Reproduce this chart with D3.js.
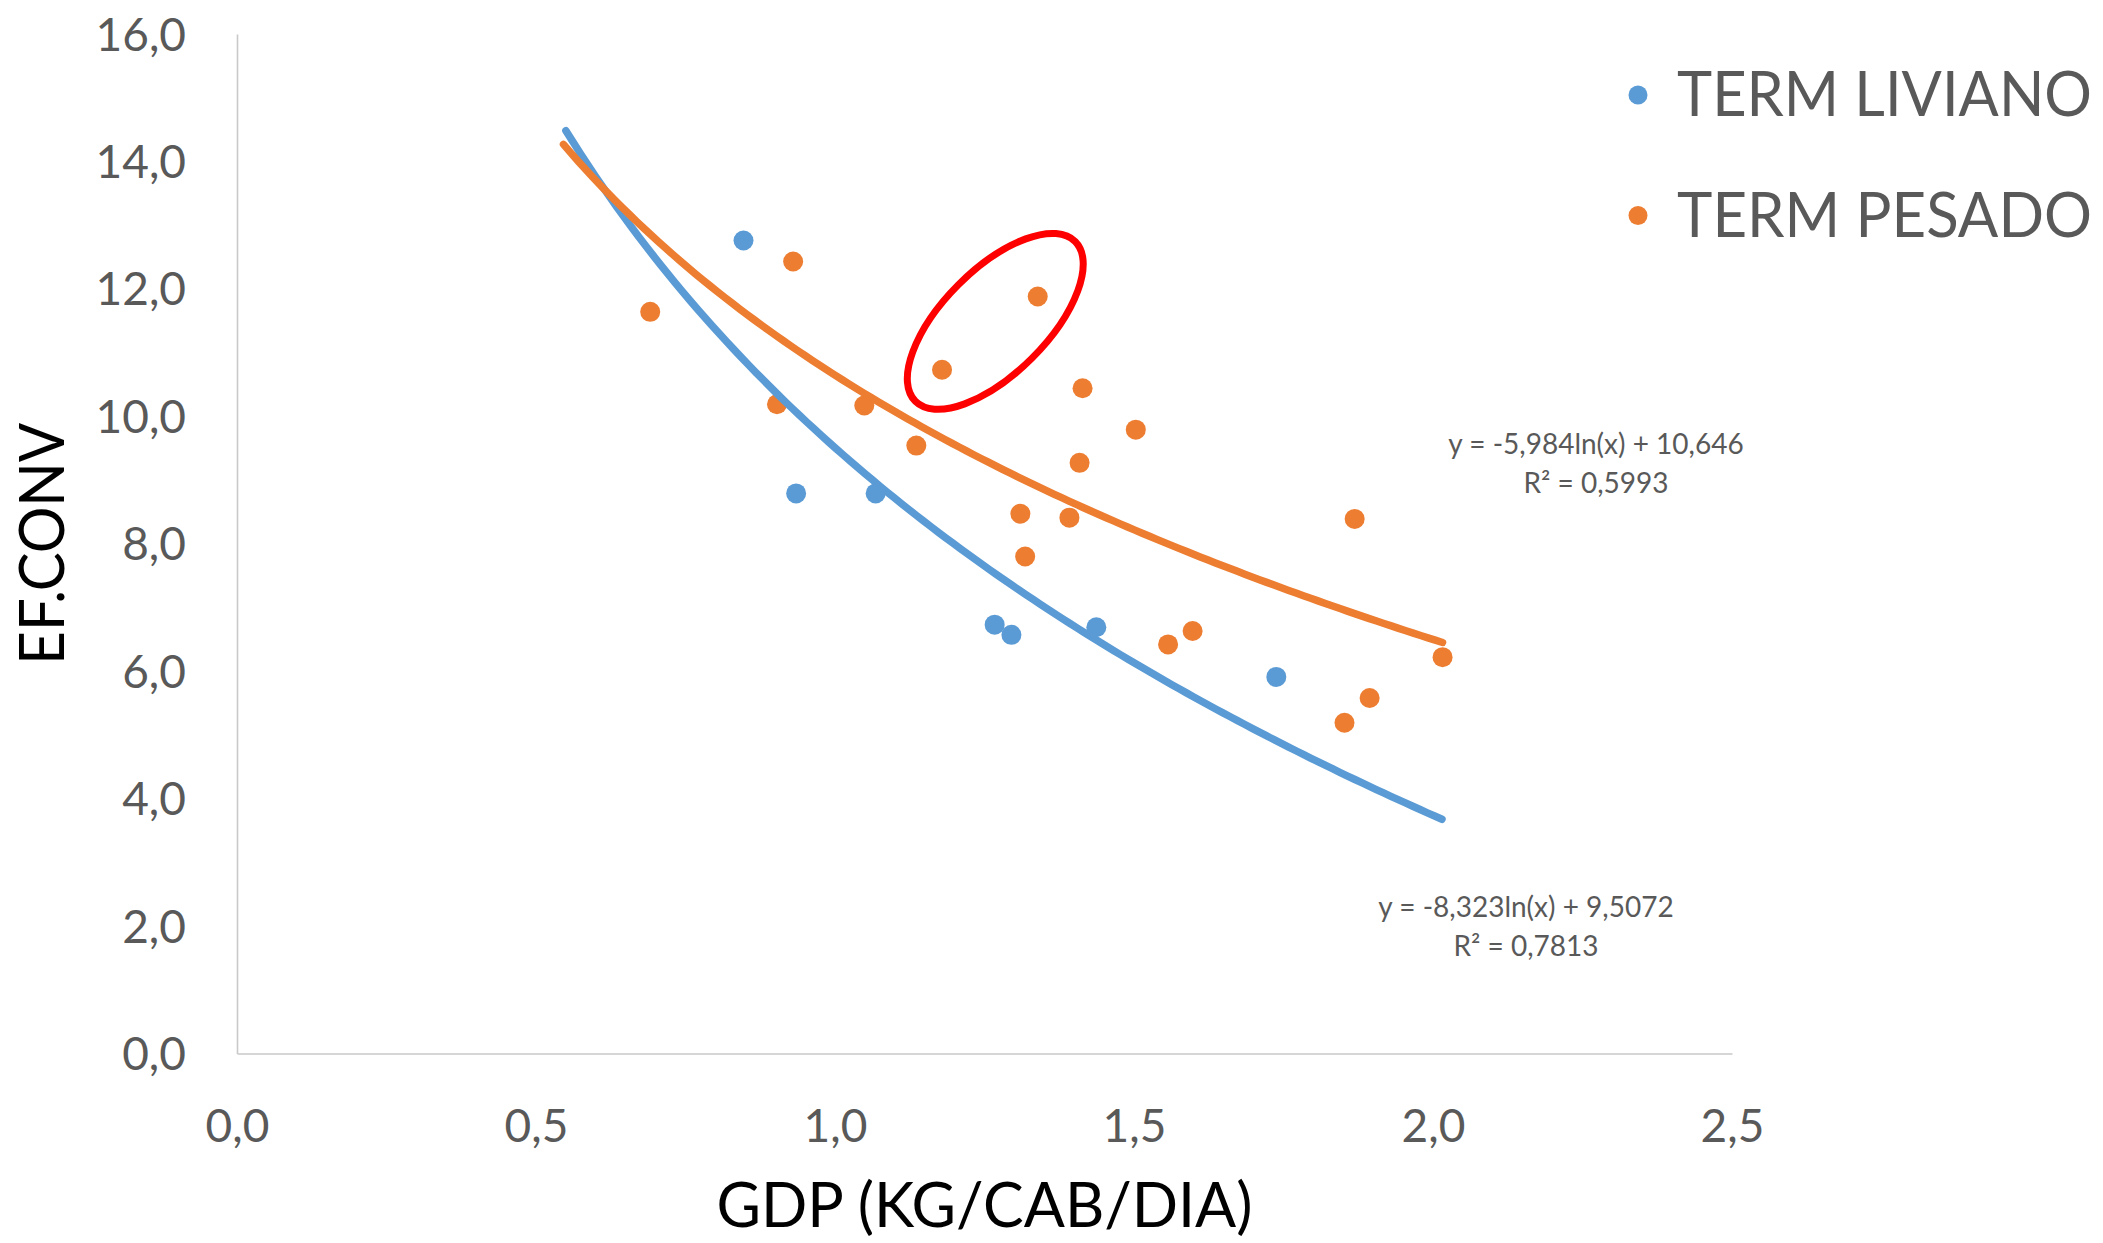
<!DOCTYPE html>
<html>
<head>
<meta charset="utf-8">
<script src="https://cdn.jsdelivr.net/npm/d3@7"></script>
<style>
  html, body { margin: 0; padding: 0; background: #ffffff; }
  svg { display: block; }
  text { font-family: Lato, "Open Sans", "Noto Sans", sans-serif; }
</style>
</head>
<body>
<svg id="chart" width="2103" height="1243"></svg>
<script>
// ---------------- DATA ----------------
const seriesNames = ["TERM LIVIANO", "TERM PESADO"];
const seriesColors = ["#5b9bd5", "#ed7d31"];

// TERM LIVIANO (GDP, EF.CONV)
const livianoX = [0.847, 0.935, 1.068, 1.267, 1.295, 1.437, 1.738];
const livianoY = [12.76, 8.79, 8.79, 6.73, 6.57, 6.69, 5.91];

// TERM PESADO (GDP, EF.CONV)
const pesadoX = [0.691, 0.930, 0.903, 1.049, 1.136, 1.179, 1.339, 1.414, 1.503, 1.409,
                 1.310, 1.392, 1.318, 1.557, 1.598, 1.869, 1.894, 1.852, 2.016];
const pesadoY = [11.64, 12.43, 10.19, 10.17, 9.54, 10.73, 11.88, 10.44, 9.79, 9.27,
                 8.47, 8.41, 7.80, 6.42, 6.63, 8.39, 5.58, 5.19, 6.22];

// Logarithmic trendlines y = a ln(x) + b (as printed on the chart)
const trendA = [-8.323, -5.984];
const trendB = [9.5072, 10.646];
const trendRange = [[0.55, 2.015], [0.546, 2.016]];
const trendLabels = [
  ["y = -8,323ln(x) + 9,5072", "R² = 0,7813"],
  ["y = -5,984ln(x) + 10,646", "R² = 0,5993"]
];

// Axis ticks
const xTicks = [0.0, 0.5, 1.0, 1.5, 2.0, 2.5];
const yTicks = [0, 2, 4, 6, 8, 10, 12, 14, 16];
const xTitle = "GDP (KG/CAB/DIA)";
const yTitle = "EF.CONV";

// Highlight annotation (red ellipse) centre in data units
const highlightCenter = [1.268, 11.49];

// ---------------- LAYOUT ----------------
const svg = d3.select("#chart");
const plotL = 237, plotR = 1732, plotT = 34, plotB = 1053.5;

const x = d3.scaleLinear().domain([0, 2.5]).range([plotL, plotR]);
const y = d3.scaleLinear().domain([0, 16]).range([plotB, plotT]);
const fmt = v => d3.format(".1f")(v).replace(".", ",");

// Axes
const xAxis = svg.append("g").attr("transform", `translate(0,${plotB})`)
  .call(d3.axisBottom(x).tickValues(xTicks).tickSize(0).tickPadding(0).tickFormat(fmt));
xAxis.select(".domain").attr("stroke", "#c9c9c9").attr("stroke-width", 1.6);
xAxis.selectAll(".tick text")
  .attr("y", 72).attr("dy", "0.35em")
  .attr("fill", "#595959").attr("font-size", 46);

const yAxis = svg.append("g").attr("transform", `translate(${plotL},0)`)
  .call(d3.axisLeft(y).tickValues(yTicks).tickSize(0).tickPadding(0).tickFormat(fmt));
yAxis.select(".domain").attr("stroke", "#c9c9c9").attr("stroke-width", 1.6);
yAxis.selectAll(".tick text")
  .attr("x", -51).attr("dy", "0.35em")
  .attr("fill", "#595959").attr("font-size", 46);

// Axis titles
svg.append("text")
  .attr("x", (plotL + plotR) / 2).attr("y", 1206).attr("dy", "0.35em")
  .attr("text-anchor", "middle").attr("font-size", 61).attr("fill", "#000")
  .attr("textLength", 536).attr("lengthAdjust", "spacingAndGlyphs")
  .text(xTitle);
svg.append("text")
  .attr("transform", `translate(42,${(plotT + plotB) / 2}) rotate(-90)`)
  .attr("dy", "0.35em").attr("text-anchor", "middle")
  .attr("font-size", 62).attr("fill", "#000")
  .attr("textLength", 242).attr("lengthAdjust", "spacingAndGlyphs")
  .text(yTitle);

// Points
const seriesData = [
  livianoX.map((v, i) => ({ x: v, y: livianoY[i] })),
  pesadoX.map((v, i) => ({ x: v, y: pesadoY[i] }))
];
seriesData.forEach((pts, si) => {
  svg.append("g").selectAll("circle").data(pts).join("circle")
    .attr("cx", d => x(d.x)).attr("cy", d => y(d.y)).attr("r", 10)
    .attr("fill", seriesColors[si]);
});

// Trendlines
const line = d3.line().x(d => x(d.x)).y(d => y(d.y)).curve(d3.curveLinear);
[0, 1].forEach(si => {
  const [x0, x1] = trendRange[si];
  const n = 120;
  const pts = d3.range(n + 1).map(k => {
    const xv = x0 + (x1 - x0) * k / n;
    return { x: xv, y: trendA[si] * Math.log(xv) + trendB[si] };
  });
  svg.append("path").datum(pts)
    .attr("d", line).attr("fill", "none")
    .attr("stroke", seriesColors[si]).attr("stroke-width", 7.5)
    .attr("stroke-linecap", "round").attr("stroke-linejoin", "round");
});

// Trendline equation labels
const eqPos = [[1526, 907], [1596, 444]];
[0, 1].forEach(si => {
  const g = svg.append("text").attr("text-anchor", "middle")
    .attr("font-size", 28).attr("fill", "#595959");
  trendLabels[si].forEach((t, li) => {
    g.append("tspan").attr("x", eqPos[si][0]).attr("y", eqPos[si][1] + li * 39)
      .attr("dy", "0.35em").text(t);
  });
});

// Red highlight ellipse
svg.append("ellipse")
  .attr("transform", `translate(${x(highlightCenter[0])},${y(highlightCenter[1])}) rotate(-45)`)
  .attr("rx", 113).attr("ry", 52)
  .attr("fill", "none").attr("stroke", "#ff0000").attr("stroke-width", 7);

// Legend
const legend = svg.append("g");
seriesNames.forEach((name, i) => {
  const ly = 95 + i * 120.5;
  legend.append("circle").attr("cx", 1638).attr("cy", ly).attr("r", 9.5).attr("fill", seriesColors[i]);
  legend.append("text").attr("x", 1677).attr("y", ly).attr("dy", "0.35em")
    .attr("font-size", 61).attr("fill", "#595959")
    .attr("textLength", 415).attr("lengthAdjust", "spacingAndGlyphs")
    .text(name);
});
</script>
</body>
</html>
